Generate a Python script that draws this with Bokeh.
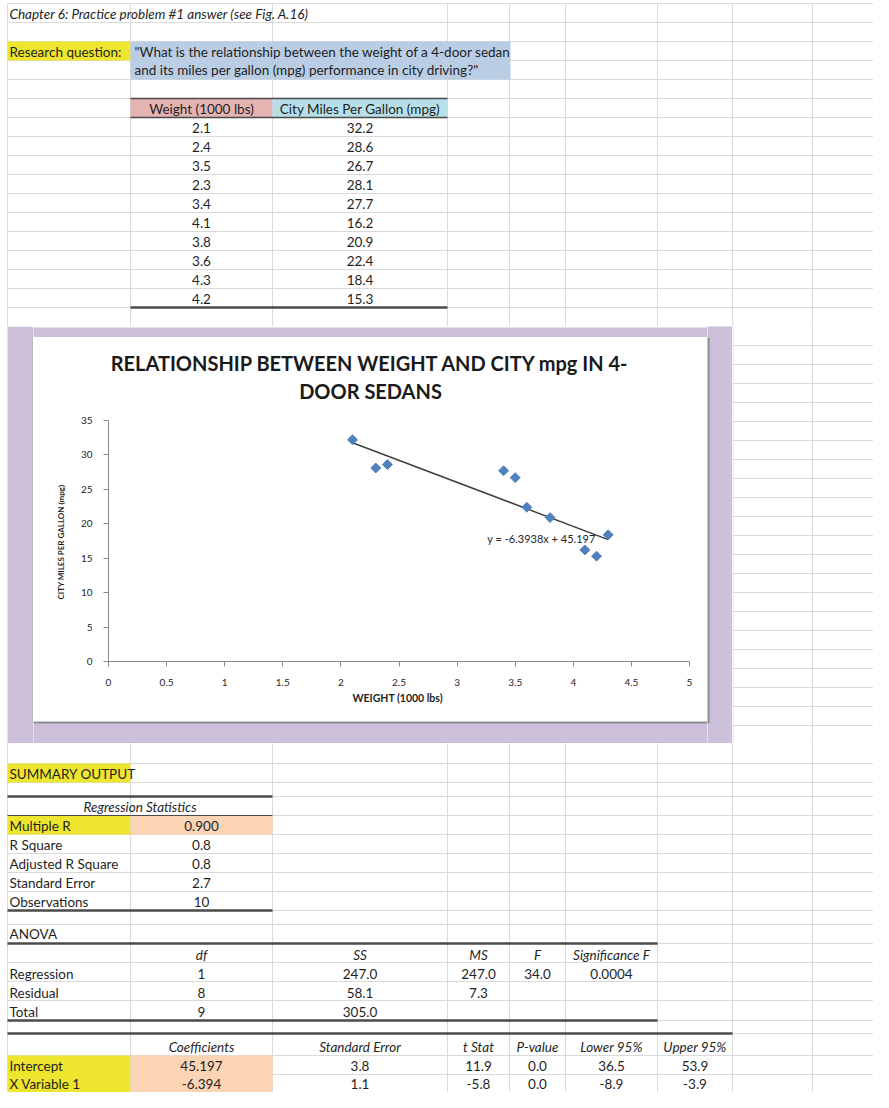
import math
from bokeh.plotting import figure
from bokeh.models import Range1d, Label
from bokeh.layouts import column, row
from bokeh.embed import file_html
from bokeh.resources import INLINE
from bokeh.core.properties import value

# ---------------- data ----------------
weight = [2.1, 2.4, 3.5, 2.3, 3.4, 4.1, 3.8, 3.6, 4.3, 4.2]
city_mpg = [32.2, 28.6, 26.7, 28.1, 27.7, 16.2, 20.9, 22.4, 18.4, 15.3]
trend_slope = -6.3938
trend_intercept = 45.197
trend_label = "y = -6.3938x + 45.197"
x_ticks = [0, 0.5, 1, 1.5, 2, 2.5, 3, 3.5, 4, 4.5, 5]
x_tick_labels = ["0", "0.5", "1", "1.5", "2", "2.5", "3", "3.5", "4", "4.5", "5"]
y_ticks = [0, 5, 10, 15, 20, 25, 30, 35]

sheet_title = "Chapter 6: Practice problem #1 answer (see Fig. A.16)"
question_label = "Research question:"
question_lines = ['"What is the relationship between the weight of a 4-door sedan',
                  'and its miles per gallon (mpg) performance in city driving?"']
table_headers = ["Weight (1000 lbs)", "City Miles Per Gallon (mpg)"]
chart_title = ["RELATIONSHIP BETWEEN WEIGHT AND CITY mpg IN 4-", "DOOR SEDANS"]
x_title = "WEIGHT  (1000 lbs)"
y_title = "CITY MILES  PER GALLON (mpg)"

reg_stat_labels = ["Multiple R", "R Square", "Adjusted R Square", "Standard Error", "Observations"]
reg_stat_values = ["0.900", "0.8", "0.8", "2.7", "10"]
anova_headers = ["df", "SS", "MS", "F", "Significance F"]
anova_labels = ["Regression", "Residual", "Total"]
anova_df = ["1", "8", "9"]
anova_ss = ["247.0", "58.1", "305.0"]
anova_ms = ["247.0", "7.3", ""]
anova_f = ["34.0", "", ""]
anova_sig = ["0.0004", "", ""]
coef_headers = ["Coefficients", "Standard Error", "t Stat", "P-value", "Lower 95%", "Upper 95%"]
coef_labels = ["Intercept", "X Variable 1"]
coef_values = ["45.197", "-6.394"]
coef_se = ["3.8", "1.1"]
coef_t = ["11.9", "-5.8"]
coef_p = ["0.0", "0.0"]
coef_lower = ["36.5", "-8.9"]
coef_upper = ["53.9", "-3.9"]

# ---------------- styling / layout ----------------
FONT = "Lato"
FS = "13.5px"
GRID = "#dadada"
DARK = "#4a4a4a"
TXT = "#1f1f1f"
YELLOW = "#eee52e"
BLUE = "#b9cde5"
PINK = "#e6b3b3"
CYAN = "#b7dfe9"
ORANGE = "#fbd4b6"
PURPLE = "#ccc0da"

col_edges = [7, 130, 272, 447, 509, 565, 657, 732, 812, 889]
col_mid = [(a + b) / 2 for a, b in zip(col_edges[:-1], col_edges[1:])]
v_lines = col_edges[:-1]


def sheet(x0, x1, y0, y1, w, h, bg="white"):
    f = figure(width=w, height=h, x_range=Range1d(x0, x1), y_range=Range1d(y1, y0),
               output_backend="svg", toolbar_location=None, x_axis_type=None,
               y_axis_type=None, min_border=0, outline_line_color=None,
               background_fill_color=bg, border_fill_color=bg, frame_align=False)
    return f


def txt(f, xs, ys, texts, align="left", size=FS, style="normal", color=TXT):
    f.text(x=xs, y=ys, text=texts, text_align=align, text_baseline="middle",
           text_font=value(FONT), text_font_size=size, text_font_style=style,
           text_color=color)


def hlines(f, ys, x0, x1, color=GRID, width=1):
    f.segment(x0=[x0] * len(ys), y0=ys, x1=[x1] * len(ys), y1=ys,
              line_color=color, line_width=width)


def vlines(f, xs, y0, y1, color=GRID, width=1):
    f.segment(x0=xs, y0=[y0] * len(xs), x1=xs, y1=[y1] * len(xs),
              line_color=color, line_width=width)


def fill(f, l, r, t, b, color):
    f.quad(left=[l], right=[r], top=[t], bottom=[b], fill_color=color, line_color=None)


# ---------------- top section (y 0..326) ----------------
top = sheet(0, 873, 0, 326, 873, 326)
top_rows = [3 + 19 * k for k in range(17)]
hlines(top, top_rows, 7, 889)
vlines(top, v_lines, 3, 326)
fill(top, 7, 130, 41, 60, YELLOW)
fill(top, 130, 510, 41, 79, BLUE)
fill(top, 130, 272, 98, 117, PINK)
fill(top, 272, 447, 98, 117, CYAN)
hlines(top, [98, 117], 130, 447, color=DARK, width=1.5)
hlines(top, [307], 130, 447, color=DARK, width=2.5)
txt(top, [9], [13], [sheet_title], style="italic")
txt(top, [9], [51], [question_label])
txt(top, [134, 134], [51, 69], question_lines)
txt(top, [col_mid[1], col_mid[2]], [108, 108], table_headers, align="center")
row_y = [127 + 19 * i for i in range(len(weight))]
txt(top, [col_mid[1]] * len(weight), row_y, [f"{v:.1f}" for v in weight], align="center")
txt(top, [col_mid[2]] * len(city_mpg), row_y, [f"{v:.1f}" for v in city_mpg], align="center")

# ---------------- middle section (y 326..743) ----------------
left_strip = sheet(0, 33, 326, 743, 33, 417)
fill(left_strip, 7, 33, 326, 743, PURPLE)
vlines(left_strip, [32.5], 337, 721, color="#a8a8a8", width=1)
right_strip = sheet(707, 732, 326, 743, 25, 417, bg=PURPLE)
vlines(right_strip, [708], 337, 723, color="#8c8c8c", width=2)
top_strip = sheet(33, 707, 326, 337, 674, 11, bg=PURPLE)
hlines(top_strip, [336.5], 33, 707, color="#a8a8a8", width=1)
bottom_strip = sheet(33, 707, 721, 743, 674, 22, bg=PURPLE)
hlines(bottom_strip, [722], 33, 709, color="#8c8c8c", width=2)

title_fig = sheet(33, 707, 337, 407, 674, 70)
txt(title_fig, [370, 370], [362, 390], chart_title, align="center", size="20px",
    style="bold", color="#1a1a1a")

chart = figure(width=674, height=314, x_range=Range1d(0, 5), y_range=Range1d(0, 35),
               output_backend="svg", toolbar_location=None, frame_align=False,
               min_border_left=75, min_border_right=18, min_border_top=13,
               min_border_bottom=60, outline_line_color=None,
               background_fill_color="white", border_fill_color="white")
chart.xgrid.visible = False
chart.ygrid.visible = False
chart.xaxis.ticker = x_ticks
chart.xaxis.major_label_overrides = {t: l for t, l in zip(x_ticks, x_tick_labels)}
chart.yaxis.ticker = y_ticks
for ax in (chart.xaxis[0], chart.yaxis[0]):
    ax.axis_line_color = "#8a8a8a"
    ax.major_tick_line_color = "#8a8a8a"
    ax.minor_tick_line_color = None
    ax.major_tick_in = 0
    ax.major_tick_out = 5
    ax.major_label_text_font = FONT
    ax.major_label_text_font_size = "10px"
    ax.major_label_text_color = "#262626"
    ax.axis_label_text_font = FONT
    ax.axis_label_text_font_style = "bold"
    ax.axis_label_text_color = "#1f1f1f"
chart.xaxis.axis_label = x_title
chart.xaxis.axis_label_text_font_size = "10.5px"
chart.xaxis.major_label_standoff = 12
chart.xaxis.axis_label_standoff = 3
chart.yaxis.axis_label = y_title
chart.yaxis.axis_label_text_font_size = "8px"
chart.yaxis.major_label_standoff = 11
chart.yaxis.axis_label_standoff = 12

tx = [min(weight), max(weight)]
ty = [trend_slope * v + trend_intercept for v in tx]
chart.line(tx, ty, line_color="#404040", line_width=1.5)
chart.scatter(weight, city_mpg, marker="square", size=7, angle=math.pi / 4,
              fill_color="#4f81bd", line_color="#4f81bd")
chart.add_layout(Label(x=3.26, y=17.9, text=trend_label, text_font=FONT,
                       text_font_size="11px", text_baseline="middle",
                       text_color="#262626"))

right_grid = sheet(732, 873, 326, 743, 141, 417)
hlines(right_grid, [3 + 19 * k for k in range(18, 40)], 732, 889)
vlines(right_grid, [732.5, 812], 326, 743)

middle = row(left_strip, column(top_strip, title_fig, chart, bottom_strip),
             right_strip, right_grid)


# ---------------- bottom section (y 743..1092) ----------------
def by(y):
    # empty spacer rows are drawn a little shorter so the sheet fits the page
    if y <= 782:
        return y
    if y <= 915:
        return y - 5
    if y <= 1030:
        return y - 10
    return y - 16


bot = sheet(0, 873, 743, 1092, 873, 349)
bot_rows = [763, 782, 801, 820, 839, 858, 877, 896, 915, 934, 953, 972, 991,
            1010, 1030, 1049, 1071, 1090]
hlines(bot, [by(y) for y in bot_rows], 7, 889)
vlines(bot, v_lines, 743, 1092)
fill(bot, 7, 130, by(763), by(782), YELLOW)
fill(bot, 7, 130, by(820), by(839), YELLOW)
fill(bot, 130, 272, by(820), by(839), ORANGE)
fill(bot, 7, 130, by(1071), 1092, YELLOW)
fill(bot, 130, 272, by(1071), 1092, ORANGE)
hlines(bot, [by(801), by(915)], 7, 272, color=DARK, width=2.5)
hlines(bot, [by(820)], 7, 272, color=DARK, width=1)
hlines(bot, [by(953), by(1030)], 7, 657, color=DARK, width=2.5)
hlines(bot, [by(1049)], 7, 732, color=DARK, width=2.5)

txt(bot, [9], [by(773)], ["SUMMARY OUTPUT"])
txt(bot, [139.5], [by(811)], ["Regression Statistics"], align="center", style="italic")
reg_y = [by(y) for y in [830, 849, 868, 887, 906]]
txt(bot, [9] * 5, reg_y, reg_stat_labels)
txt(bot, [col_mid[1]] * 5, reg_y, reg_stat_values, align="center")

txt(bot, [9], [by(943)], ["ANOVA"])
txt(bot, col_mid[1:6], [by(964)] * 5, anova_headers, align="center", style="italic")
an_y = [by(y) for y in [983, 1002, 1021]]
txt(bot, [9] * 3, an_y, anova_labels)
for ci, colvals in enumerate([anova_df, anova_ss, anova_ms, anova_f, anova_sig]):
    txt(bot, [col_mid[ci + 1]] * 3, an_y, colvals, align="center")

txt(bot, col_mid[1:7], [by(1062)] * 6, coef_headers, align="center", style="italic")
cf_y = [by(y) for y in [1081, 1099]]
txt(bot, [9] * 2, cf_y, coef_labels)
for ci, colvals in enumerate([coef_values, coef_se, coef_t, coef_p, coef_lower, coef_upper]):
    txt(bot, [col_mid[ci + 1]] * 2, cf_y, colvals, align="center")

page = column(top, middle, bot)
open("out.html", "w").write(file_html(page, INLINE))
